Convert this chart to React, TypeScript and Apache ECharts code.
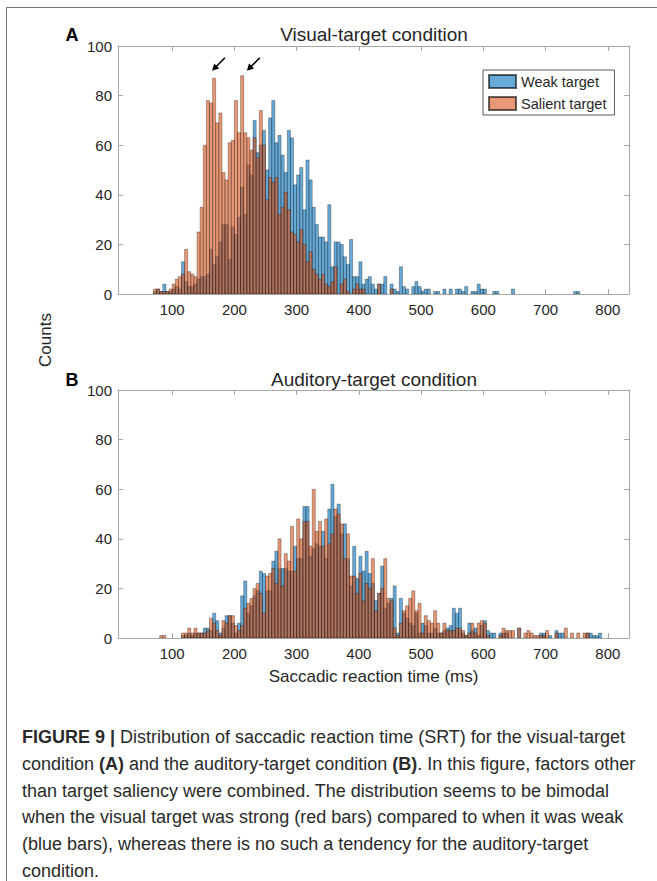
import React, { useEffect, useRef } from 'react';
import * as echarts from 'echarts';

// ---- Data (bin start in ms, count) ; bin width 5 ms ----
const BIN_WIDTH = 5;
const X_MIN = 13;
const X_MAX = 834;
const xTickValues = [100, 200, 300, 400, 500, 600, 700, 800];
const yTickInterval = 20;

const visualWeak: [number, number][] = [
  [70,1],[75,2],[80,1],[85,4],[90,1],[95,1],[100,2],[105,3],[110,2],[115,13],[120,5],[125,3],[130,3],[135,4],
  [140,6],[145,7],[150,7],[155,8],[160,18],[165,12],[170,15],[175,21],[180,28],[185,28],[190,14],[195,27],
  [200,24],[205,31],[210,43],[215,32],[220,52],[225,48],[230,70],[235,57],[240,60],[245,66],[250,50],[255,71],
  [260,78],[265,61],[270,64],[275,56],[280,49],[285,66],[290,63],[295,44],[300,48],[305,51],[310,34],[315,54],
  [320,46],[325,35],[330,28],[335,23],[340,23],[345,21],[350,36],[355,11],[360,21],[365,21],[370,20],[375,15],
  [380,12],[385,22],[390,7],[395,7],[400,13],[405,4],[410,6],[415,7],[420,4],[425,2],[430,4],[435,4],[440,7],
  [450,4],[455,2],[460,1],[465,11],[470,3],[475,2],[485,3],[490,5],[495,3],[500,1],[505,2],[510,2],[520,1],
  [525,1],[535,2],[545,2],[555,2],[560,2],[565,1],[570,3],[580,1],[585,1],[590,4],[595,2],[600,2],[615,1],
  [620,1],[645,2],[745,1],[750,1]
];

const visualSalient: [number, number][] = [
  [70,2],[75,2],[80,1],[85,1],[90,1],[95,2],[100,4],[105,6],[110,7],[115,8],[120,18],[125,9],[130,8],[135,7],
  [140,25],[145,35],[150,60],[155,78],[160,77],[165,87],[170,69],[175,73],[180,49],[185,46],[190,61],[195,62],
  [200,78],[205,65],[210,88],[215,65],[220,63],[225,58],[230,63],[235,55],[240,74],[245,60],[250,38],[255,47],
  [260,45],[265,47],[270,32],[275,35],[280,41],[285,34],[290,25],[295,24],[300,21],[305,26],[310,20],[315,13],
  [320,17],[325,10],[330,8],[335,6],[340,8],[345,4],[350,3],[355,5],[360,11],[370,4],[375,6],[380,1],[390,2],
  [395,4],[400,2],[405,2],[430,4],[450,2]
];

const auditoryWeak: [number, number][] = [
  [115,1],[120,1],[125,2],[130,1],[135,2],[140,2],[145,2],[150,4],[155,4],[160,3],[165,10],[170,7],[175,2],
  [180,4],[185,9],[190,9],[195,6],[200,2],[205,6],[210,17],[215,23],[220,10],[225,13],[230,17],[235,19],
  [240,27],[245,26],[250,19],[255,19],[260,31],[265,35],[270,28],[275,28],[280,28],[285,27],[290,27],[295,37],
  [300,32],[305,32],[310,53],[315,53],[320,33],[325,36],[330,38],[335,37],[340,43],[345,32],[350,52],[355,62],
  [360,49],[365,54],[370,42],[375,46],[380,32],[385,21],[390,37],[395,24],[400,33],[405,27],[410,35],[415,26],
  [420,22],[425,15],[430,18],[435,29],[440,12],[445,14],[450,16],[455,21],[460,2],[465,16],[470,10],[475,8],
  [480,6],[485,5],[490,10],[495,2],[500,6],[505,5],[510,2],[515,2],[520,4],[525,2],[530,2],[535,3],[540,4],
  [545,5],[550,12],[555,10],[560,12],[565,2],[570,1],[575,6],[580,3],[585,4],[590,1],[595,5],[600,7],[605,3],
  [610,2],[615,2],[625,2],[630,2],[635,2],[655,4],[690,2],[695,2],[705,1],[715,3],[720,2],[725,2],[765,2],
  [770,2],[775,1],[780,1],[785,2]
];

const auditorySalient: [number, number][] = [
  [80,1],[85,1],[115,2],[120,2],[125,4],[130,2],[135,4],[140,2],[145,2],[150,2],[155,3],[160,8],[165,6],
  [170,3],[175,1],[180,7],[185,6],[190,9],[195,9],[200,5],[205,3],[210,5],[215,12],[220,14],[225,16],[230,20],
  [235,22],[240,18],[245,10],[250,25],[255,26],[260,28],[265,22],[270,40],[275,21],[280,34],[285,31],[290,45],
  [295,27],[300,48],[305,40],[310,47],[315,47],[320,37],[325,60],[330,43],[335,47],[340,37],[345,48],[350,38],
  [355,42],[360,52],[365,50],[370,46],[375,32],[380,42],[385,25],[390,25],[395,18],[400,26],[405,15],[410,22],
  [415,20],[420,32],[425,11],[430,18],[435,20],[440,32],[445,16],[450,15],[455,4],[460,1],[465,6],[470,11],
  [475,13],[480,16],[485,19],[490,11],[495,14],[500,2],[505,9],[510,7],[515,6],[520,11],[525,6],[530,2],
  [535,6],[540,3],[545,3],[550,3],[555,4],[560,4],[565,3],[570,1],[575,2],[580,6],[585,2],[590,6],[595,7],
  [600,6],[605,1],[625,1],[630,4],[635,3],[640,3],[645,3],[655,4],[665,2],[670,3],[675,2],[680,1],[685,1],
  [690,1],[695,1],[700,3],[715,2],[730,4],[740,2],[750,2],[760,2],[765,2]
];

const seriesNames = ['Weak target', 'Salient target'];
const panelTitles = ['Visual-target condition', 'Auditory-target condition'];
const panelLetters = ['A', 'B'];
const captionLines = [
  '{b|FIGURE 9 |} Distribution of saccadic reaction time (SRT) for the visual-target',
  'condition {b|(A)} and the auditory-target condition {b|(B)}. In this figure, factors other',
  'than target saliency were combined. The distribution seems to be bimodal',
  'when the visual target was strong (red bars) compared to when it was weak',
  '(blue bars), whereas there is no such a tendency for the auditory-target',
  'condition.'
];
// arrow tips (data coords in panel A)
const arrowTips: [number, number][] = [[164, 90], [220, 90]];

const BLUE = '#0072BD';
const ORANGE = '#D95319';
const FONT = '"Liberation Sans", Arial, Helvetica, sans-serif';
const AXIS_COLOR = '#a6a6a6';
const TEXT_COLOR = '#262626';

function makeRender(color: string) {
  return (params: any, api: any) => {
    const x0 = api.value(0);
    const v = api.value(1);
    const p0 = api.coord([x0, 0]);
    const p1 = api.coord([x0 + BIN_WIDTH, v]);
    return {
      type: 'rect',
      shape: { x: p0[0], y: p1[1], width: p1[0] - p0[0], height: p0[1] - p1[1] },
      style: { fill: color, stroke: '#000', lineWidth: 0.5, opacity: 0.6 },
    };
  };
}

export default function App() {
  const ref = useRef<HTMLDivElement>(null);
  useEffect(() => {
    document.body.style.margin = '0';
    const chart = echarts.init(ref.current!, null, { renderer: 'svg' });
    const grids = [
      { left: 118, width: 511, top: 46, height: 248 },
      { left: 118, width: 511, top: 390, height: 248 },
    ];
    const xAxes: any[] = [];
    const yAxes: any[] = [];
    grids.forEach((_, g) => {
      const baseX = {
        gridIndex: g, type: 'value', min: X_MIN, max: X_MAX,
        axisLine: { show: true, onZero: false, lineStyle: { color: AXIS_COLOR, width: 1 } },
        axisTick: { show: true, inside: true, length: 5, customValues: xTickValues, lineStyle: { color: AXIS_COLOR } },
        splitLine: { show: false },
      };
      xAxes.push({
        ...baseX, position: 'bottom',
        axisLabel: { customValues: xTickValues, color: TEXT_COLOR, fontSize: 15, margin: 8, fontFamily: FONT },
        ...(g === 1 ? { name: 'Saccadic reaction time (ms)', nameLocation: 'middle', nameGap: 30,
          nameTextStyle: { fontSize: 17, color: TEXT_COLOR, fontFamily: FONT } } : {}),
      });
      xAxes.push({ ...baseX, position: 'top', axisLabel: { show: false } });
      const baseY = {
        gridIndex: g, type: 'value', min: 0, max: 100, interval: yTickInterval,
        axisLine: { show: true, onZero: false, lineStyle: { color: AXIS_COLOR, width: 1 } },
        axisTick: { show: true, inside: true, length: 5, lineStyle: { color: AXIS_COLOR } },
        splitLine: { show: false },
      };
      yAxes.push({ ...baseY, position: 'left',
        axisLabel: { color: TEXT_COLOR, fontSize: 15, margin: 6, fontFamily: FONT } });
      yAxes.push({ ...baseY, position: 'right', axisLabel: { show: false } });
    });

    const panels = [[visualWeak, visualSalient], [auditoryWeak, auditorySalient]];
    const series: any[] = [];
    panels.forEach((pair, g) => {
      pair.forEach((data, s) => {
        const color = s === 0 ? BLUE : ORANGE;
        series.push({
          type: 'custom', name: seriesNames[s],
          xAxisIndex: g * 2, yAxisIndex: g * 2,
          data, encode: { x: 0, y: 1 }, clip: true,
          itemStyle: { color, opacity: 0.6, borderColor: '#000', borderWidth: 0.6 },
          renderItem: makeRender(color),
          z: 2 + s,
        });
      });
    });

    chart.setOption({
      animation: false,
      backgroundColor: '#fff',
      grid: grids,
      xAxis: xAxes,
      yAxis: yAxes,
      series,
      legend: {
        data: seriesNames, orient: 'vertical', left: 483, top: 70,
        icon: 'rect', itemWidth: 27, itemHeight: 13, itemGap: 7,
        padding: [4, 8, 4, 5], borderColor: '#333', borderWidth: 0.8,
        backgroundColor: '#fff', selectedMode: false,
        textStyle: { fontSize: 14.5, color: TEXT_COLOR, fontFamily: FONT },
      },
    });

    const graphics: any[] = [];
    // frame lines
    graphics.push({ type: 'line', shape: { x1: 6, y1: 7.5, x2: 657, y2: 7.5 }, style: { stroke: '#777', lineWidth: 1 } });
    graphics.push({ type: 'line', shape: { x1: 6.5, y1: 7, x2: 6.5, y2: 881 }, style: { stroke: '#777', lineWidth: 1 } });
    // titles & letters
    const titleY = [34, 379];
    panelTitles.forEach((t, i) => {
      graphics.push({ type: 'text', x: 374, y: titleY[i], style: { text: t, fontSize: 19, fill: TEXT_COLOR, fontFamily: FONT, align: 'center', verticalAlign: 'middle' } });
      graphics.push({ type: 'text', x: 72, y: titleY[i] + 1, style: { text: panelLetters[i], fontSize: 18, fontWeight: 'bold', fill: '#000', fontFamily: FONT, align: 'center', verticalAlign: 'middle' } });
    });
    graphics.push({ type: 'text', x: 45, y: 340, rotation: Math.PI / 2, style: { text: 'Counts', fontSize: 17, fill: TEXT_COLOR, fontFamily: FONT, align: 'center', verticalAlign: 'middle' } });
    // arrows
    arrowTips.forEach((tip) => {
      const p = chart.convertToPixel({ gridIndex: 0 } as any, tip) as number[];
      const tx = p[0], ty = p[1];
      graphics.push({ type: 'line', shape: { x1: tx + 13, y1: ty - 13, x2: tx + 4, y2: ty - 4 }, style: { stroke: '#000', lineWidth: 1.6 } });
      graphics.push({ type: 'polygon', shape: { points: [[tx, ty], [tx + 7.2, ty - 2.2], [tx + 2.2, ty - 7.2]] }, style: { fill: '#000' } });
    });
    // caption
    captionLines.forEach((line, i) => {
      graphics.push({
        type: 'text', x: 22, y: 737 + i * 26.8,
        style: {
          text: line, fontSize: 18, fill: '#2a2a2a', fontFamily: FONT, verticalAlign: 'middle',
          rich: { b: { fontWeight: 'bold', fontSize: 18, fill: '#2a2a2a', fontFamily: FONT } },
        },
      });
    });
    chart.setOption({ graphic: graphics });

    return () => chart.dispose();
  }, []);
  return <div ref={ref} style={{ width: 657, height: 881 }} />;
}
